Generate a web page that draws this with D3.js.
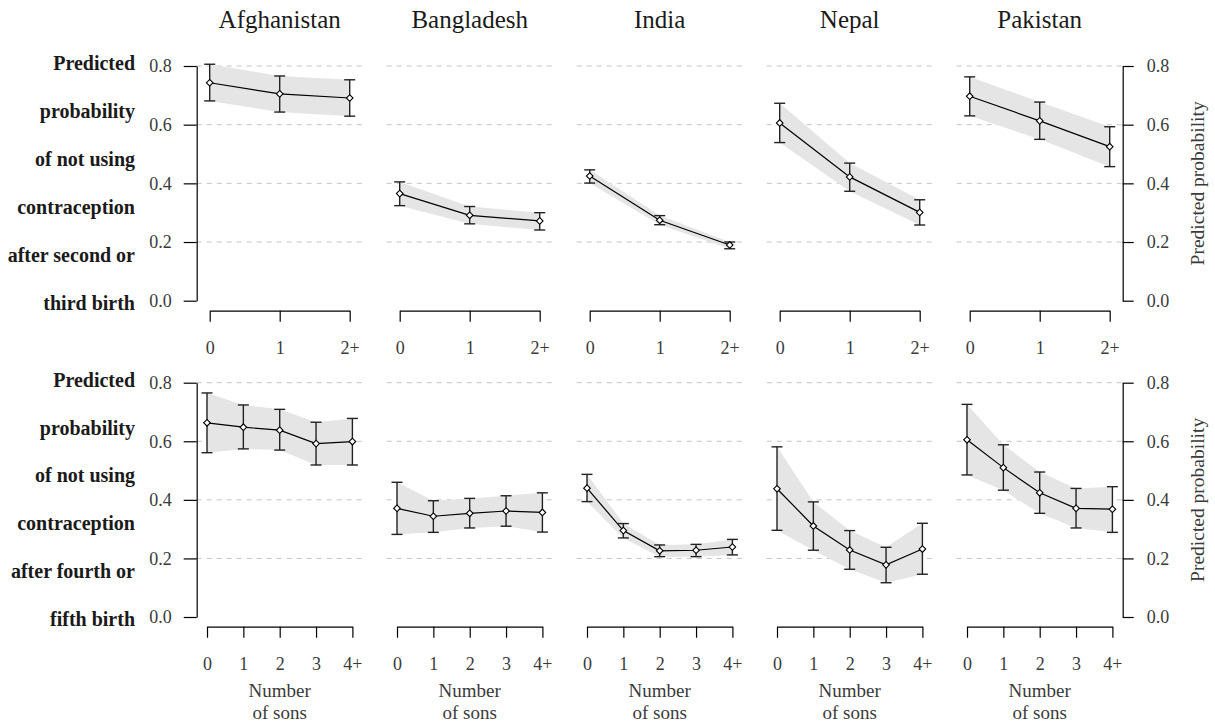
<!DOCTYPE html>
<html>
<head>
<meta charset="utf-8">
<script src="https://cdn.jsdelivr.net/npm/d3@7"></script>
</head>
<body style="margin:0">
<script>

var countries = ["Afghanistan", "Bangladesh", "India", "Nepal", "Pakistan"];
var sonsTop = ["0", "1", "2+"];
var sonsBottom = ["0", "1", "2", "3", "4+"];
var yTicks = [0, 0.2, 0.4, 0.6, 0.8];
var gridTicks = [0.2, 0.4, 0.6, 0.8];

// after second or third birth
var topEst = [
    [0.743, 0.705, 0.691],
    [0.365, 0.291, 0.272],
    [0.425, 0.274, 0.190],
    [0.606, 0.422, 0.301],
    [0.697, 0.613, 0.525]
];
var topLo = [
    [0.681, 0.643, 0.629],
    [0.324, 0.262, 0.241],
    [0.401, 0.259, 0.177],
    [0.539, 0.373, 0.258],
    [0.630, 0.550, 0.457]
];
var topHi = [
    [0.806, 0.766, 0.753],
    [0.405, 0.321, 0.300],
    [0.446, 0.290, 0.200],
    [0.673, 0.469, 0.344],
    [0.763, 0.677, 0.593]
];

// after fourth or fifth birth
var bottomEst = [
    [0.663, 0.648, 0.638, 0.592, 0.599],
    [0.371, 0.344, 0.354, 0.362, 0.357],
    [0.440, 0.295, 0.226, 0.228, 0.239],
    [0.438, 0.311, 0.229, 0.178, 0.232],
    [0.605, 0.510, 0.424, 0.371, 0.368]
];
var bottomLo = [
    [0.561, 0.574, 0.570, 0.519, 0.519],
    [0.282, 0.289, 0.304, 0.310, 0.290],
    [0.394, 0.270, 0.206, 0.206, 0.212],
    [0.296, 0.228, 0.163, 0.117, 0.146],
    [0.485, 0.433, 0.354, 0.304, 0.289]
];
var bottomHi = [
    [0.765, 0.724, 0.709, 0.665, 0.678],
    [0.460, 0.397, 0.405, 0.414, 0.424],
    [0.487, 0.319, 0.246, 0.248, 0.265],
    [0.581, 0.393, 0.295, 0.238, 0.320],
    [0.726, 0.588, 0.495, 0.439, 0.445]
];

var rowLabelsTop = ["Predicted", "probability", "of not using", "contraception", "after second or", "third birth"];
var rowLabelsBottom = ["Predicted", "probability", "of not using", "contraception", "after fourth or", "fifth birth"];

var FONT = "'Liberation Serif'";
var width = 1215, height = 725;
var panelLeft = 196.7, panelStep = 190, panelWidth = 166;

var svg = d3.select("body").append("svg")
    .attr("width", width)
    .attr("height", height);

var rows = [
    {sons: sonsTop, est: topEst, lo: topLo, hi: topHi, labels: rowLabelsTop,
     yTop: 66, yBottom: 300.7, axisY: 310.7, pad: 13, xlab: false},
    {sons: sonsBottom, est: bottomEst, lo: bottomLo, hi: bottomHi, labels: rowLabelsBottom,
     yTop: 382.7, yBottom: 617, axisY: 626.7, pad: 10.3, xlab: true}
];

function addText(parent, t, size) {
    return parent.append("text")
        .attr("font-size", size)
        .style("font-family", FONT)
        .text(t);
}

function styleAxis(a) {
    a.attr("font-family", null).attr("font-size", null);
    a.selectAll("path, line").attr("stroke", "#000").attr("stroke-width", 1.2);
    a.selectAll("text")
        .style("font-family", FONT)
        .attr("font-size", 18)
        .attr("fill", "#3a3a3a");
}

rows.forEach(function(row) {
    var y = d3.scaleLinear().domain([0, 0.8]).range([row.yBottom, row.yTop]);

    // row label on the left
    var labStep = (row.yBottom - row.yTop + 5) / 5;
    row.labels.forEach(function(t, i) {
        addText(svg, t, 20)
            .attr("x", 135)
            .attr("y", row.yTop - 3 + i * labStep)
            .attr("dy", "0.35em")
            .attr("text-anchor", "end")
            .attr("font-weight", "bold")
            .attr("fill", "#1a1a1a");
    });

    countries.forEach(function(country, c) {
        var x0 = panelLeft + c * panelStep;
        var x = d3.scalePoint()
            .domain(row.sons)
            .range([x0 + row.pad, x0 + panelWidth - row.pad]);

        var g = svg.append("g");

        // dashed grid
        g.selectAll(".grid")
            .data(gridTicks)
            .enter()
            .append("line")
            .attr("x1", x0)
            .attr("x2", x0 + panelWidth)
            .attr("y1", function(d) { return y(d); })
            .attr("y2", function(d) { return y(d); })
            .attr("stroke", "#c4c4c4")
            .attr("stroke-dasharray", "5,5");

        var pts = row.sons.map(function(s, i) {
            return {s: s, est: row.est[c][i], lo: row.lo[c][i], hi: row.hi[c][i]};
        });

        // confidence band
        var area = d3.area()
            .x(function(d) { return x(d.s); })
            .y0(function(d) { return y(d.lo); })
            .y1(function(d) { return y(d.hi); });
        g.append("path")
            .attr("d", area(pts))
            .attr("fill", "#e5e5e5");

        // line
        var line = d3.line()
            .x(function(d) { return x(d.s); })
            .y(function(d) { return y(d.est); });
        g.append("path")
            .attr("d", line(pts))
            .attr("fill", "none")
            .attr("stroke", "#000")
            .attr("stroke-width", 1.2);

        // error bars
        var eb = g.selectAll(".eb")
            .data(pts)
            .enter()
            .append("g")
            .attr("stroke", "#222")
            .attr("stroke-width", 1.4);
        eb.append("line")
            .attr("x1", function(d) { return x(d.s); })
            .attr("x2", function(d) { return x(d.s); })
            .attr("y1", function(d) { return y(d.lo); })
            .attr("y2", function(d) { return y(d.hi); });
        eb.append("line")
            .attr("x1", function(d) { return x(d.s) - 5.5; })
            .attr("x2", function(d) { return x(d.s) + 5.5; })
            .attr("y1", function(d) { return y(d.lo); })
            .attr("y2", function(d) { return y(d.lo); });
        eb.append("line")
            .attr("x1", function(d) { return x(d.s) - 5.5; })
            .attr("x2", function(d) { return x(d.s) + 5.5; })
            .attr("y1", function(d) { return y(d.hi); })
            .attr("y2", function(d) { return y(d.hi); });

        // diamond markers
        g.selectAll(".pt")
            .data(pts)
            .enter()
            .append("path")
            .attr("d", d3.symbol().type(d3.symbolSquare).size(22))
            .attr("transform", function(d) {
                return "translate(" + x(d.s) + "," + y(d.est) + ") rotate(45)";
            })
            .attr("fill", "#fff")
            .attr("stroke", "#000")
            .attr("stroke-width", 1.1);

        // x axis
        var xa = g.append("g")
            .attr("transform", "translate(0," + row.axisY + ")")
            .call(d3.axisBottom(x).tickSize(11).tickSizeOuter(0).tickPadding(20));
        styleAxis(xa);

        if (row.xlab) {
            ["Number", "of sons"].forEach(function(t, i) {
                addText(g, t, 19)
                    .attr("x", x0 + panelWidth / 2)
                    .attr("y", 690 + i * 22.7)
                    .attr("dy", "0.35em")
                    .attr("text-anchor", "middle")
                    .attr("fill", "#3a3a3a");
            });
        }

        if (row === rows[0]) {
            addText(svg, country, 25)
                .attr("x", x0 + panelWidth / 2)
                .attr("y", 28)
                .attr("text-anchor", "middle")
                .attr("fill", "#1a1a1a");
        }
    });

    // left y axis
    var ya = svg.append("g")
        .attr("transform", "translate(" + panelLeft + ",0)")
        .call(d3.axisLeft(y).tickValues(yTicks).tickFormat(d3.format(".1f"))
            .tickSize(13).tickSizeOuter(0).tickPadding(12));
    styleAxis(ya);

    // right y axis
    var rightX = panelLeft + 4 * panelStep + panelWidth;
    var yr = svg.append("g")
        .attr("transform", "translate(" + rightX + ",0)")
        .call(d3.axisRight(y).tickValues(yTicks).tickFormat(d3.format(".1f"))
            .tickSize(11).tickSizeOuter(0).tickPadding(13));
    styleAxis(yr);

    addText(svg, "Predicted probability", 19.5)
        .attr("transform", "translate(1197," + ((row.yTop + row.yBottom) / 2) + ") rotate(-90)")
        .attr("dy", "0.35em")
        .attr("text-anchor", "middle")
        .attr("fill", "#3a3a3a");
});

</script>
</body>
</html>
